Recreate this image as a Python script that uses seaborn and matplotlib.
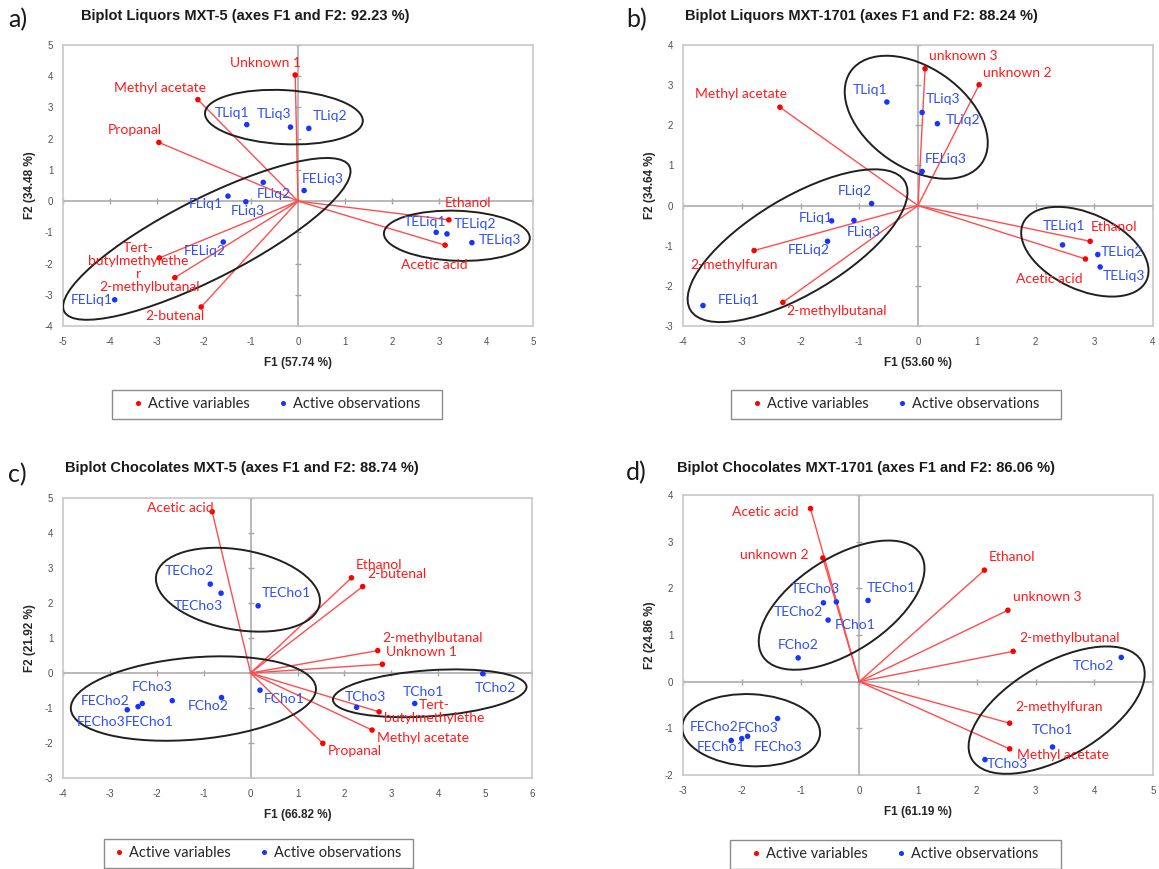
import numpy as np
import pandas as pd
import matplotlib
matplotlib.use("Agg")
import matplotlib.pyplot as plt
import seaborn as sns
from matplotlib.patches import Ellipse, Rectangle
from matplotlib.transforms import Affine2D, ScaledTranslation
from matplotlib.lines import Line2D

# ---------------- a) Liquors MXT-5 ----------------
liq5_var_names = ["Unknown 1", "Methyl acetate", "Propanal", "Ethanol", "Acetic acid",
                  "Tert-\nbutylmethylethe\nr", "2-methylbutanal", "2-butenal"]
liq5_var_f1 = [-0.06, -2.13, -2.96, 3.21, 3.13, -2.95, -2.62, -2.06]
liq5_var_f2 = [4.04, 3.25, 1.88, -0.60, -1.41, -1.82, -2.45, -3.39]
liq5_obs_names = ["TLiq1", "TLiq2", "TLiq3", "FLiq1", "FLiq2", "FLiq3",
                  "FELiq1", "FELiq2", "FELiq3", "TELiq1", "TELiq2", "TELiq3"]
liq5_obs_f1 = [-1.09, 0.23, -0.16, -1.49, -0.74, -1.11, -3.90, -1.59, 0.13, 2.94, 3.17, 3.70]
liq5_obs_f2 = [2.45, 2.33, 2.37, 0.16, 0.60, -0.02, -3.16, -1.31, 0.34, -1.00, -1.05, -1.33]

# ---------------- b) Liquors MXT-1701 ----------------
liq1701_var_names = ["unknown 3", "unknown 2", "Methyl acetate", "Ethanol", "Acetic acid",
                     "2-methylfuran", "2-methylbutanal"]
liq1701_var_f1 = [0.12, 1.04, -2.35, 2.93, 2.85, -2.79, -2.30]
liq1701_var_f2 = [3.41, 3.01, 2.45, -0.89, -1.33, -1.12, -2.41]
liq1701_obs_names = ["TLiq1", "TLiq2", "TLiq3", "FLiq1", "FLiq2", "FLiq3",
                     "FELiq1", "FELiq2", "FELiq3", "TELiq1", "TELiq2", "TELiq3"]
liq1701_obs_f1 = [-0.53, 0.33, 0.07, -1.47, -0.79, -1.09, -3.66, -1.54, 0.07, 2.46, 3.06, 3.10]
liq1701_obs_f2 = [2.58, 2.04, 2.32, -0.38, 0.05, -0.37, -2.49, -0.89, 0.85, -0.98, -1.22, -1.53]

# ---------------- c) Chocolates MXT-5 ----------------
cho5_var_names = ["Acetic acid", "Ethanol", "2-butenal", "2-methylbutanal", "Unknown 1",
                  "Tert-\nbutylmethylethe", "Methyl acetate", "Propanal"]
cho5_var_f1 = [-0.82, 2.15, 2.39, 2.71, 2.81, 2.74, 2.59, 1.54]
cho5_var_f2 = [4.61, 2.72, 2.47, 0.64, 0.25, -1.11, -1.63, -2.01]
cho5_obs_names = ["TECho1", "TECho2", "TECho3", "FCho1", "FCho2", "FCho3",
                  "FECho1", "FECho2", "FECho3", "TCho1", "TCho2", "TCho3"]
cho5_obs_f1 = [0.16, -0.86, -0.63, 0.20, -0.62, -1.67, -2.40, -2.31, -2.63, 3.50, 4.95, 2.26]
cho5_obs_f2 = [1.92, 2.54, 2.28, -0.49, -0.70, -0.79, -0.96, -0.87, -1.05, -0.87, -0.02, -0.98]

# ---------------- d) Chocolates MXT-1701 ----------------
cho1701_var_names = ["Acetic acid", "unknown 2", "Ethanol", "unknown 3", "2-methylbutanal",
                     "2-methylfuran", "Methyl acetate"]
cho1701_var_f1 = [-0.83, -0.62, 2.13, 2.53, 2.62, 2.56, 2.56]
cho1701_var_f2 = [3.71, 2.65, 2.39, 1.53, 0.65, -0.89, -1.44]
cho1701_obs_names = ["TECho1", "TECho2", "TECho3", "FCho1", "FCho2", "FCho3",
                     "FECho1", "FECho2", "FECho3", "TCho1", "TCho2", "TCho3"]
cho1701_obs_f1 = [0.15, -0.61, -0.39, -0.53, -1.04, -1.39, -2.00, -2.18, -1.90, 3.29, 4.46, 2.14]
cho1701_obs_f2 = [1.74, 1.69, 1.71, 1.32, 0.51, -0.79, -1.22, -1.26, -1.17, -1.40, 0.52, -1.67]

# Label placement (pixel offsets from each point)
liq5_var_off = [(-30, 12), (-38, 12), (-24, 12), (19, 17), (-11, -20), (-21, -3), (-25, -9), (-26, -9)]
liq5_obs_off = [(-15, 12), (21, 12), (-16, 13), (-22, -8), (11, -12), (2, -9),
                (-23, 0), (-19, -9), (19, 11), (-11, 10), (28, 10), (28, 3)]
liq1701_var_off = [(38, 13), (38, 12), (-39, 13), (24, 14), (-36, -20), (-20, -14), (54, -9)]
liq1701_obs_off = [(-17, 12), (26, 4), (21, 13), (-16, 3), (-17, 13), (10, -12),
                   (36, 6), (-19, -9), (24, 12), (1, 19), (24, 3), (24, -9)]
cho5_var_off = [(-32, 4), (28, 13), (34, 13), (55, 13), (39, 12), (55, 0), (51, -8), (32, -8)]
cho5_obs_off = [(28, 13), (-21, 13), (-23, -13), (24, -9), (-13, -9), (-20, 14),
                (11, -15), (-37, 2), (-26, -12), (9, 11), (13, -14), (9, 10)]
cho1701_var_off = [(-45, -3), (-49, 3), (28, 13), (39, 13), (56, 13), (49, 16), (53, -6)]
cho1701_obs_off = [(23, 12), (-25, -9), (-21, 13), (27, -5), (0, 13), (-19, -9),
                   (-21, -8), (-17, 13), (30, -11), (0, 17), (-28, -9), (22, -4)]

# Group outlines: centre (F1, F2), semi-axes in pixels, tilt in degrees
liq5_groups = [(-0.30, 2.69, 79, 27, -3), (-1.94, -1.21, 160, 40, 27), (3.38, -1.11, 73, 25, -2)]
liq1701_groups = [(-0.03, 2.20, 80, 50, -35), (-2.05, -1.00, 125, 48, 31), (2.84, -1.15, 68, 38, -25)]
cho5_groups = [(-0.27, 2.38, 83, 40, -10), (-1.22, -0.73, 123, 41, 5), (3.82, -0.58, 97, 23, 4)]
cho1701_groups = [(-0.30, 1.64, 94, 47, 33), (-1.84, -1.04, 69, 36, -3), (3.36, -0.61, 98, 47, 30)]

RED = "#ff0000"
RED_TXT = "#ff1a1a"
LINE_RED = "#ff4d4d"
BLUE = "#1535ff"
BLUE_TXT = "#2f4ff0"
FRAME = "#c8c8c8"
ZERO = "#a6a6a6"
TICK_TXT = "#505050"

sns.set_theme(style="white")
plt.rcParams["axes.unicode_minus"] = False
plt.rcParams["font.family"] = ["Liberation Sans", "DejaVu Sans"]

DPI = 100
fig = plt.figure(figsize=(11.59, 8.69), dpi=DPI)
W, H = 1159, 869


def px_axes(left, top, right, bottom):
    return fig.add_axes([left / W, 1 - bottom / H, (right - left) / W, (bottom - top) / H])


def draw_panel(ax, var_names, var_f1, var_f2, var_off, obs_names, obs_f1, obs_f2, obs_off,
               groups, xlim, ylim, xlabel, ylabel):
    for s in ax.spines.values():
        s.set_color(FRAME)
        s.set_linewidth(1.2)
    xt = np.arange(xlim[0], xlim[1] + 1)
    yt = np.arange(ylim[0], ylim[1] + 1)
    ax.axhline(0, color=ZERO, lw=1.1, zorder=1)
    ax.axvline(0, color=ZERO, lw=1.1, zorder=1)
    ax.plot(xt, np.zeros_like(xt), ls="none", marker="|", ms=5, mew=1, color=ZERO, zorder=1)
    ax.plot(np.zeros_like(yt), yt, ls="none", marker="_", ms=5, mew=1, color=ZERO, zorder=1)

    for x, y in zip(var_f1, var_f2):
        ax.plot([0, x], [0, y], color=LINE_RED, lw=1.0, zorder=2)

    var_df = pd.DataFrame({"F1": var_f1, "F2": var_f2})
    obs_df = pd.DataFrame({"F1": obs_f1, "F2": obs_f2})
    sns.scatterplot(data=var_df, x="F1", y="F2", color=RED, s=16, edgecolor="none",
                    ax=ax, zorder=4, legend=False)
    sns.scatterplot(data=obs_df, x="F1", y="F2", color=BLUE, s=16, edgecolor="none",
                    ax=ax, zorder=4, legend=False)

    for name, x, y, (dx, dy) in zip(var_names, var_f1, var_f2, var_off):
        ax.annotate(name, (x, y), xytext=(dx, dy), textcoords="offset pixels",
                    ha="center", va="center", multialignment="center", color=RED_TXT,
                    fontsize=10, family="Lato", linespacing=1.1, zorder=5)
    for name, x, y, (dx, dy) in zip(obs_names, obs_f1, obs_f2, obs_off):
        ax.annotate(name, (x, y), xytext=(dx, dy), textcoords="offset pixels",
                    ha="center", va="center", color=BLUE_TXT,
                    fontsize=10, family="Lato", zorder=5)

    for cx, cy, a, b, ang in groups:
        tr = Affine2D() + ScaledTranslation(cx, cy, ax.transData)
        ax.add_patch(Ellipse((0, 0), 2 * a, 2 * b, angle=ang, transform=tr,
                             fill=False, ec="#202020", lw=1.4, zorder=3))

    ax.set_xlim(*xlim)
    ax.set_ylim(*ylim)
    ax.set_xticks(xt)
    ax.set_yticks(yt)
    ax.tick_params(length=0, labelsize=7, labelcolor=TICK_TXT)
    ax.tick_params(axis="x", pad=8)
    ax.tick_params(axis="y", pad=7)
    ax.set_xlabel(xlabel, fontsize=8.5, fontweight="bold", labelpad=7, color="#262626")
    ax.set_ylabel(ylabel, fontsize=8.5, fontweight="bold", labelpad=6, color="#262626")


def draw_legend(cx, cy, w, h):
    fig.patches.append(Rectangle(((cx - w / 2) / W, 1 - (cy + h / 2) / H), w / W, h / H,
                                 transform=fig.transFigure, fill=False,
                                 ec="#8c8c8c", lw=1.0))
    handles = [Line2D([], [], ls="none", marker="o", ms=2.6, color=RED, label="Active variables"),
               Line2D([], [], ls="none", marker="o", ms=2.6, color=BLUE, label="Active observations")]
    fig.legend(handles=handles, loc="center", bbox_to_anchor=(cx / W, 1 - cy / H),
               ncol=2, frameon=False, handlelength=0.6, handletextpad=0.4,
               columnspacing=2.0, prop={"family": "Lato", "size": 10.5})


ax_a = px_axes(63, 45, 533, 326)
draw_panel(ax_a, liq5_var_names, liq5_var_f1, liq5_var_f2, liq5_var_off,
           liq5_obs_names, liq5_obs_f1, liq5_obs_f2, liq5_obs_off, liq5_groups,
           (-5, 5), (-4, 5), "F1 (57.74 %)", "F2 (34.48 %)")

ax_b = px_axes(683, 45, 1153, 326)
draw_panel(ax_b, liq1701_var_names, liq1701_var_f1, liq1701_var_f2, liq1701_var_off,
           liq1701_obs_names, liq1701_obs_f1, liq1701_obs_f2, liq1701_obs_off, liq1701_groups,
           (-4, 4), (-3, 4), "F1 (53.60 %)", "F2 (34.64 %)")

ax_c = px_axes(63, 498, 532, 778)
draw_panel(ax_c, cho5_var_names, cho5_var_f1, cho5_var_f2, cho5_var_off,
           cho5_obs_names, cho5_obs_f1, cho5_obs_f2, cho5_obs_off, cho5_groups,
           (-4, 6), (-3, 5), "F1 (66.82 %)", "F2 (21.92 %)")

ax_d = px_axes(683, 495, 1153, 775)
draw_panel(ax_d, cho1701_var_names, cho1701_var_f1, cho1701_var_f2, cho1701_var_off,
           cho1701_obs_names, cho1701_obs_f1, cho1701_obs_f2, cho1701_obs_off, cho1701_groups,
           (-3, 5), (-2, 4), "F1 (61.19 %)", "F2 (24.86 %)")

titles = [("a)", "Biplot Liquors MXT-5 (axes F1 and F2: 92.23 %)", 18, 20, 245, 16),
          ("b)", "Biplot Liquors MXT-1701 (axes F1 and F2: 88.24 %)", 637, 20, 861, 16),
          ("c)", "Biplot Chocolates MXT-5 (axes F1 and F2: 88.74 %)", 17, 475, 242, 468),
          ("d)", "Biplot Chocolates MXT-1701 (axes F1 and F2: 86.06 %)", 636, 473, 866, 468)]
for letter, title, lx, ly, tx, ty in titles:
    fig.text(lx / W, 1 - ly / H, letter, ha="center", va="center", fontsize=18,
             family="Lato", color="#1a1a1a")
    fig.text(tx / W, 1 - ty / H, title, ha="center", va="center", fontsize=10.5,
             fontweight="bold", color="#1a1a1a")

draw_legend(277, 404, 330, 29)
draw_legend(896, 404, 330, 29)
draw_legend(258, 853, 309, 29)
draw_legend(895, 854, 331, 29)

fig.savefig("out.png", dpi=DPI)
